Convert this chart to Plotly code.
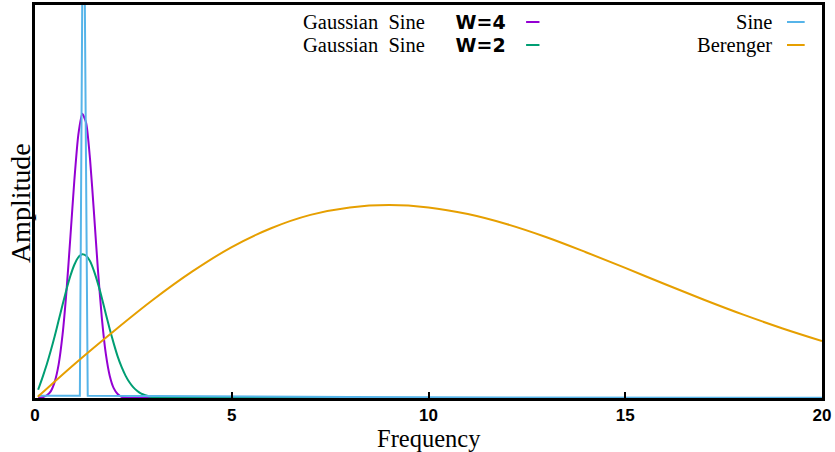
import plotly.graph_objects as go

# ---- data ----
freq_w4 = [0.08, 0.2, 0.3, 0.4, 0.5, 0.6, 0.7, 0.8, 0.9, 1.0, 1.1, 1.2, 1.3, 1.4, 1.5,
           1.6, 1.7, 1.8, 1.9, 2.0, 2.1, 2.2, 2.3, 2.4, 3.0, 20.0]
amp_w4 = [0.000, 0.002, 0.007, 0.017, 0.041, 0.085, 0.161, 0.272, 0.411, 0.554, 0.669,
          0.723, 0.700, 0.606, 0.469, 0.325, 0.202, 0.112, 0.056, 0.025, 0.010, 0.003,
          0.001, 0.000, 0.000, 0.000]

freq_w2 = [0.08, 0.2, 0.3, 0.4, 0.5, 0.6, 0.7, 0.8, 0.9, 1.0, 1.1, 1.2, 1.3, 1.4, 1.5,
           1.6, 1.7, 1.8, 1.9, 2.0, 2.1, 2.2, 2.3, 2.4, 2.5, 2.6, 2.7, 2.8, 2.9, 3.0,
           3.2, 3.4, 20.0]
amp_w2 = [0.021, 0.055, 0.086, 0.120, 0.157, 0.197, 0.237, 0.276, 0.311, 0.339, 0.358,
          0.366, 0.362, 0.348, 0.323, 0.291, 0.254, 0.214, 0.175, 0.139, 0.106, 0.079,
          0.057, 0.040, 0.027, 0.018, 0.011, 0.007, 0.004, 0.002, 0.001, 0.000, 0.000]

freq_sine = [0.08, 1.14, 1.23, 1.34, 3.0, 5.0, 8.0, 12.0, 16.0, 20.0]
amp_sine = [0.006, 0.006, 1.5, 0.006, 0.005, 0.0035, 0.0025, 0.0015, 0.001, 0.0008]

freq_ber = [0.07, 1, 2, 3, 4, 5, 6, 7, 8, 9, 10, 11, 12, 13, 14, 15, 16, 17, 18, 19, 20]
amp_ber = [0.003, 0.086, 0.170, 0.250, 0.322, 0.384, 0.432, 0.466, 0.485, 0.491, 0.485,
           0.468, 0.442, 0.409, 0.371, 0.331, 0.290, 0.250, 0.212, 0.177, 0.145]

x_ticks = [0, 5, 10, 15, 20]
x_tick_labels = ["0", "5", "10", "15", "20"]

names = ["Gaussian Sine W=4", "Gaussian Sine W=2", "Sine", "Berenger"]
colors = ["#9400D3", "#009E73", "#56B4E9", "#E69F00"]

SERIF = "Liberation Serif"

fig = go.Figure()
fig.add_trace(go.Scatter(x=freq_w4, y=amp_w4, mode="lines", name=names[0],
                         line=dict(color=colors[0], width=2, shape="spline", smoothing=0.6)))
fig.add_trace(go.Scatter(x=freq_w2, y=amp_w2, mode="lines", name=names[1],
                         line=dict(color=colors[1], width=2, shape="spline", smoothing=0.6)))
fig.add_trace(go.Scatter(x=freq_sine, y=amp_sine, mode="lines", name=names[2],
                         line=dict(color=colors[2], width=2)))
fig.add_trace(go.Scatter(x=freq_ber, y=amp_ber, mode="lines", name=names[3],
                         line=dict(color=colors[3], width=2, shape="spline", smoothing=1.0)))

# gnuplot-style key: right-aligned text followed by a short line sample
def label_html(name):
    if "W=" in name:
        head, tail = name.split("W=")
        words = head.split()
        head = words[0] + "&nbsp;&nbsp;" + words[1] + "&nbsp;" * 6
        return (head + '<span style="font-family:\'DejaVu Sans\';font-weight:bold;'
                'font-size:19px">W=' + tail + "</span>")
    return name

key_text_x = [0.6010, 0.6010, 0.9390, 0.9390]
key_y = [0.9567, 0.8982, 0.9567, 0.8982]
key_line_x = [(0.624, 0.641), (0.624, 0.641), (0.9555, 0.978), (0.9555, 0.978)]
for i, nm in enumerate(names):
    fig.add_annotation(x=key_text_x[i], y=key_y[i], xref="paper", yref="paper",
                       text=label_html(nm), showarrow=False, xanchor="right",
                       yanchor="middle", font=dict(family=SERIF, size=20.5, color="black"))
    fig.add_shape(type="line", xref="paper", yref="paper",
                  x0=key_line_x[i][0], x1=key_line_x[i][1], y0=key_y[i], y1=key_y[i],
                  line=dict(color=colors[i], width=2))

# axis titles placed like the reference
fig.add_annotation(x=-0.019, y=0.496, xref="paper", yref="paper", text="Amplitude",
                   textangle=-90, showarrow=False, xanchor="center", yanchor="middle",
                   font=dict(family=SERIF, size=28, color="black"))
fig.add_annotation(x=0.5, y=-0.1043, xref="paper", yref="paper", text="Frequency",
                   showarrow=False, xanchor="center", yanchor="middle",
                   font=dict(family=SERIF, size=24.5, color="black"))

fig.update_layout(
    width=835, height=452,
    margin=dict(l=35, r=13, t=5, b=54, autoexpand=False),
    paper_bgcolor="white", plot_bgcolor="white",
    showlegend=False,
    xaxis=dict(range=[0, 20], tickvals=x_ticks, ticktext=x_tick_labels,
               ticks="inside", ticklen=6, tickwidth=2, tickcolor="black",
               ticklabelstandoff=0, automargin=False,
               showline=True, linewidth=2.5, linecolor="black", mirror=True,
               showgrid=False, zeroline=False,
               tickfont=dict(family="Liberation Sans", size=17, color="black", weight="bold")),
    yaxis=dict(range=[0, 1], showticklabels=False, ticks="", automargin=False,
               showline=True, linewidth=2.5, linecolor="black", mirror=True,
               showgrid=False, zeroline=False),
)

fig.write_html("out.html")
